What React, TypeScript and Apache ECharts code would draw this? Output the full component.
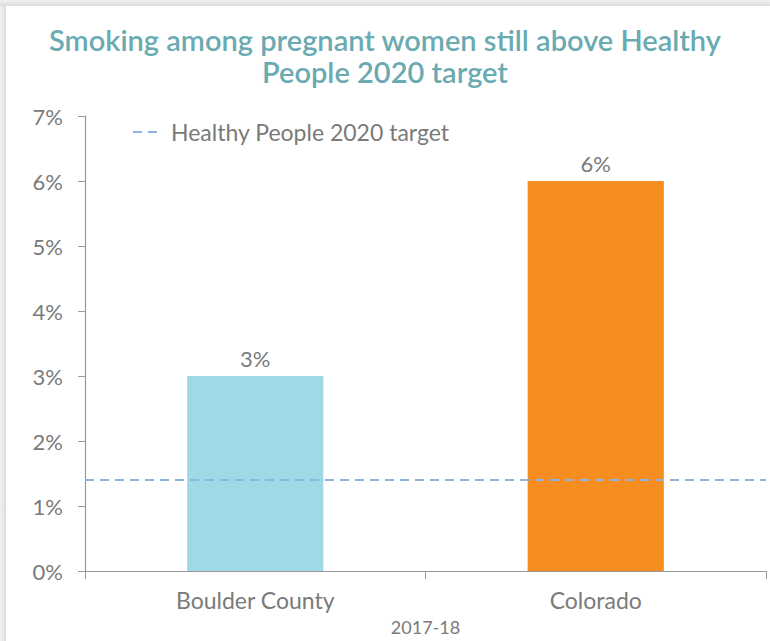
import React, { useEffect, useRef } from "react";
import * as echarts from "echarts";

const categories = ["Boulder County", "Colorado"];
const values = [3, 6];
const barColors = ["#9fd8e6", "#f58d20"];
const targetValue = 1.4;
const targetName = "Healthy People 2020 target";
const periodLabel = "2017-18";
const titleText = "Smoking among pregnant women still above Healthy\nPeople 2020 target";

export default function App() {
  const ref = useRef<HTMLDivElement>(null);
  useEffect(() => {
    const chart = echarts.init(ref.current!, null, { renderer: "svg" });
    const font = "Lato";
    const gray = "#7a7a7a";
    chart.setOption({
      animation: false,
      backgroundColor: "#ffffff",
      textStyle: { fontFamily: font },
      graphic: [
        {
          type: "rect",
          shape: { x: 0, y: 0, width: 6, height: 641 },
          style: {
            fill: new echarts.graphic.LinearGradient(0, 0, 1, 0, [
              { offset: 0, color: "#f2f2f2" },
              { offset: 1, color: "#dcdcdc" },
            ]),
          },
          silent: true,
        },
        {
          type: "rect",
          shape: { x: 0, y: 0, width: 770, height: 6 },
          style: {
            fill: new echarts.graphic.LinearGradient(0, 0, 0, 1, [
              { offset: 0, color: "#f2f2f2" },
              { offset: 1, color: "#dcdcdc" },
            ]),
          },
          silent: true,
        },
        {
          type: "line",
          shape: { x1: 133, y1: 132, x2: 161, y2: 132 },
          style: { stroke: "#8fb4e3", lineWidth: 2, lineDash: [9, 6] },
          silent: true,
        },
        {
          type: "text",
          x: 171,
          y: 132,
          style: {
            text: targetName,
            fontFamily: font,
            fontSize: 23,
            fill: gray,
            verticalAlign: "middle",
          },
          silent: true,
        },
      ],
      title: {
        text: titleText,
        left: "center",
        top: 18,
        textStyle: {
          fontFamily: font,
          fontSize: 29,
          fontWeight: 600,
          color: "#6aaab1",
          lineHeight: 32,
        },
      },
      grid: { left: 85, right: 4, top: 116, bottom: 65, containLabel: false },
      xAxis: {
        type: "category",
        data: categories,
        name: periodLabel,
        nameLocation: "middle",
        nameGap: 47,
        nameTextStyle: { fontFamily: font, fontSize: 18, color: gray },
        axisLine: { lineStyle: { color: "#999999", width: 1.2 } },
        axisTick: { show: true, alignWithLabel: false, length: 8, lineStyle: { color: "#999999" } },
        axisLabel: { fontFamily: font, fontSize: 23, color: gray, margin: 17 },
      },
      yAxis: {
        type: "value",
        min: 0,
        max: 7,
        interval: 1,
        splitLine: { show: false },
        axisLine: { show: true, lineStyle: { color: "#999999", width: 1.2 } },
        axisTick: { show: true, length: 7, lineStyle: { color: "#999999" } },
        axisLabel: { formatter: "{value}%", fontFamily: font, fontSize: 22, color: gray, margin: 22 },
      },
      series: [
        {
          type: "bar",
          barWidth: "40%",
          data: values.map((v, i) => ({ value: v, itemStyle: { color: barColors[i] } })),
          label: {
            show: true,
            position: "top",
            formatter: "{c}%",
            fontFamily: font,
            fontSize: 22,
            color: gray,
            distance: 7,
          },
          markLine: {
            silent: true,
            symbol: ["none", "none"],
            label: { show: false },
            lineStyle: { color: "#8fb4e3", width: 2, type: [9, 6] },
            data: [{ yAxis: targetValue }],
          },
        },
      ],
    });
    return () => chart.dispose();
  }, []);
  return (
    <div
      ref={ref}
      style={{ position: "absolute", left: 0, top: 0, width: 770, height: 641 }}
    />
  );
}
